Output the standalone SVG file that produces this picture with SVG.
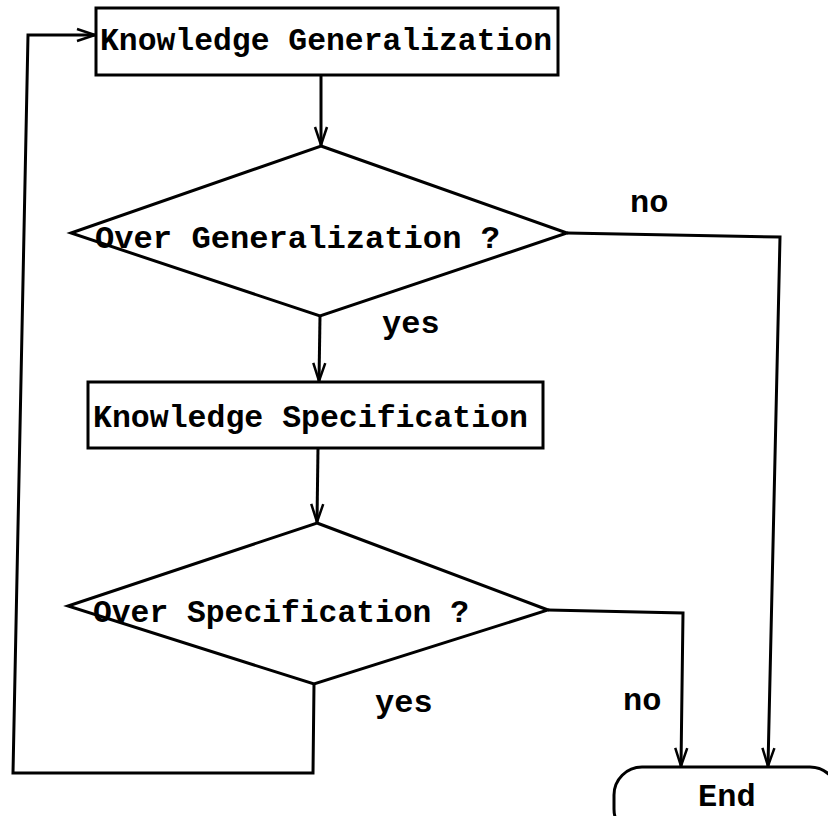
<svg xmlns="http://www.w3.org/2000/svg" width="828" height="816" viewBox="0 0 828 816">
<style>
.s{fill:none;stroke:#000;stroke-width:3;stroke-linejoin:miter}
.n{fill:#fff;stroke:#000;stroke-width:3}
.t{font-family:"Liberation Mono","Courier New",monospace;font-weight:bold;font-size:32px;fill:#000}
</style>
<defs>
<marker id="a" markerUnits="userSpaceOnUse" markerWidth="20" markerHeight="22" refX="19" refY="11" orient="auto">
<path d="M1,5 L19,11 L1,17" fill="none" stroke="#000" stroke-width="2.5"/>
</marker>
</defs>
<rect width="828" height="816" fill="#fff"/>
<g id="connectors">
<path class="s" d="M321,75 L321,145" marker-end="url(#a)"/>
<path class="s" d="M320,316 L319,381" marker-end="url(#a)"/>
<path class="s" d="M318,448 L317,522" marker-end="url(#a)"/>
<path class="s" d="M567,233 L780,237 L768,766" marker-end="url(#a)"/>
<path class="s" d="M548,610 L683,613 L681,766" marker-end="url(#a)"/>
<path class="s" d="M314,684 L313,773 L13,773 L28,35 L95,35" marker-end="url(#a)"/>
<text class="t" x="630" y="212">no</text>
<text class="t" x="382" y="333">yes</text>
<text class="t" x="375" y="712">yes</text>
<text class="t" x="623" y="710">no</text>
</g>
<g id="gen">
<rect class="n" x="96" y="8" width="462" height="67"/>
<text class="t" x="100" y="50" textLength="452" lengthAdjust="spacingAndGlyphs">Knowledge Generalization</text>
</g>
<g id="overgen">
<polygon class="n" points="321,146 567,233 320,316 71,233"/>
<text class="t" x="95" y="248" textLength="405" lengthAdjust="spacingAndGlyphs">Over Generalization ?</text>
</g>
<g id="spec">
<rect class="n" x="88" y="382" width="455" height="66"/>
<text class="t" x="93" y="427" textLength="435" lengthAdjust="spacingAndGlyphs">Knowledge Specification</text>
</g>
<g id="overspec">
<polygon class="n" points="317,523 548,610 314,684 68,606"/>
<text class="t" x="93" y="622" textLength="376" lengthAdjust="spacingAndGlyphs">Over Specification ?</text>
</g>
<g id="end">
<rect class="n" x="614" y="767" width="224" height="70" rx="28" ry="28"/>
<text class="t" x="698" y="806">End</text>
</g>
</svg>
